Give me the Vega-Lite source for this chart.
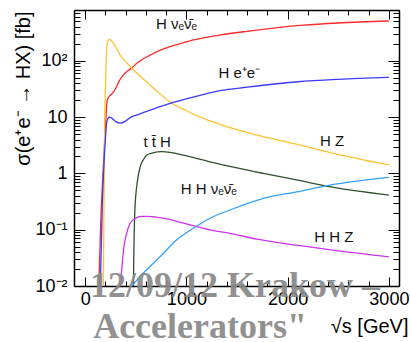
{
  "$schema": "https://vega.github.io/schema/vega-lite/v6.json",
  "width": 325,
  "height": 276,
  "autosize": {"type": "none"},
  "padding": {"left": 74, "top": 10, "right": 11, "bottom": 56},
  "background": "white",
  "config": {
    "view": {"stroke": null},
    "axis": {
      "grid": false,
      "labelFont": "Liberation Sans",
      "titleFont": "Liberation Sans",
      "labelColor": "black",
      "titleColor": "black",
      "titleFontWeight": "normal",
      "domainColor": "black",
      "domainWidth": 1.5,
      "tickColor": "black",
      "tickWidth": 1,
      "labelFlush": false,
      "labelOverlap": false,
      "labelBound": false
    }
  },
  "datasets": {
    "curves": [
      {"p": "Hnn", "s": 135, "v": 0.01}, {"p": "Hnn", "s": 155, "v": 0.15}, {"p": "Hnn", "s": 175, "v": 0.9},
      {"p": "Hnn", "s": 190, "v": 3}, {"p": "Hnn", "s": 204, "v": 9}, {"p": "Hnn", "s": 218, "v": 20},
      {"p": "Hnn", "s": 235, "v": 23}, {"p": "Hnn", "s": 265, "v": 26}, {"p": "Hnn", "s": 296, "v": 31},
      {"p": "Hnn", "s": 340, "v": 45}, {"p": "Hnn", "s": 380, "v": 57}, {"p": "Hnn", "s": 420, "v": 66},
      {"p": "Hnn", "s": 461, "v": 75}, {"p": "Hnn", "s": 520, "v": 93}, {"p": "Hnn", "s": 580, "v": 110},
      {"p": "Hnn", "s": 641, "v": 126}, {"p": "Hnn", "s": 700, "v": 143}, {"p": "Hnn", "s": 839, "v": 178},
      {"p": "Hnn", "s": 1000, "v": 218}, {"p": "Hnn", "s": 1332, "v": 287}, {"p": "Hnn", "s": 1600, "v": 335},
      {"p": "Hnn", "s": 2154, "v": 430}, {"p": "Hnn", "s": 2500, "v": 470}, {"p": "Hnn", "s": 3000, "v": 510},

      {"p": "HZ", "s": 180, "v": 0.01}, {"p": "HZ", "s": 190, "v": 3}, {"p": "HZ", "s": 200, "v": 30},
      {"p": "HZ", "s": 210, "v": 120}, {"p": "HZ", "s": 222, "v": 220}, {"p": "HZ", "s": 240, "v": 241},
      {"p": "HZ", "s": 260, "v": 228}, {"p": "HZ", "s": 300, "v": 180}, {"p": "HZ", "s": 345, "v": 127},
      {"p": "HZ", "s": 400, "v": 97}, {"p": "HZ", "s": 461, "v": 74}, {"p": "HZ", "s": 550, "v": 52},
      {"p": "HZ", "s": 674, "v": 33}, {"p": "HZ", "s": 839, "v": 18.5}, {"p": "HZ", "s": 1000, "v": 13},
      {"p": "HZ", "s": 1168, "v": 9.5}, {"p": "HZ", "s": 1400, "v": 6.8}, {"p": "HZ", "s": 1760, "v": 4.5},
      {"p": "HZ", "s": 2000, "v": 3.6}, {"p": "HZ", "s": 2418, "v": 2.35}, {"p": "HZ", "s": 3000, "v": 1.42},

      {"p": "Hee", "s": 150, "v": 0.01}, {"p": "Hee", "s": 170, "v": 0.3}, {"p": "Hee", "s": 190, "v": 2},
      {"p": "Hee", "s": 200, "v": 4}, {"p": "Hee", "s": 215, "v": 8.5}, {"p": "Hee", "s": 240, "v": 10},
      {"p": "Hee", "s": 265, "v": 9.5}, {"p": "Hee", "s": 300, "v": 8.4}, {"p": "Hee", "s": 345, "v": 7.8},
      {"p": "Hee", "s": 400, "v": 8.5}, {"p": "Hee", "s": 444, "v": 9.8}, {"p": "Hee", "s": 510, "v": 10.9},
      {"p": "Hee", "s": 600, "v": 12.5}, {"p": "Hee", "s": 700, "v": 14.5}, {"p": "Hee", "s": 839, "v": 17.6},
      {"p": "Hee", "s": 1000, "v": 21}, {"p": "Hee", "s": 1332, "v": 29.5}, {"p": "Hee", "s": 1600, "v": 34},
      {"p": "Hee", "s": 2100, "v": 42.5}, {"p": "Hee", "s": 2500, "v": 47}, {"p": "Hee", "s": 3000, "v": 51},

      {"p": "ttH", "s": 477, "v": 0.01}, {"p": "ttH", "s": 482, "v": 0.05}, {"p": "ttH", "s": 490, "v": 0.2},
      {"p": "ttH", "s": 500, "v": 0.4}, {"p": "ttH", "s": 515, "v": 0.7}, {"p": "ttH", "s": 543, "v": 1.3},
      {"p": "ttH", "s": 575, "v": 1.75}, {"p": "ttH", "s": 609, "v": 2.12}, {"p": "ttH", "s": 674, "v": 2.33},
      {"p": "ttH", "s": 757, "v": 2.43}, {"p": "ttH", "s": 850, "v": 2.35}, {"p": "ttH", "s": 1000, "v": 2.05},
      {"p": "ttH", "s": 1234, "v": 1.61}, {"p": "ttH", "s": 1500, "v": 1.25}, {"p": "ttH", "s": 1760, "v": 1.0},
      {"p": "ttH", "s": 2100, "v": 0.76}, {"p": "ttH", "s": 2418, "v": 0.58}, {"p": "ttH", "s": 3000, "v": 0.41},

      {"p": "HHZ", "s": 345, "v": 0.01}, {"p": "HHZ", "s": 362, "v": 0.02}, {"p": "HHZ", "s": 380, "v": 0.045},
      {"p": "HHZ", "s": 395, "v": 0.066}, {"p": "HHZ", "s": 420, "v": 0.1}, {"p": "HHZ", "s": 444, "v": 0.13},
      {"p": "HHZ", "s": 500, "v": 0.16}, {"p": "HHZ", "s": 550, "v": 0.172}, {"p": "HHZ", "s": 620, "v": 0.173},
      {"p": "HHZ", "s": 700, "v": 0.168}, {"p": "HHZ", "s": 773, "v": 0.16}, {"p": "HHZ", "s": 1000, "v": 0.127},
      {"p": "HHZ", "s": 1234, "v": 0.099}, {"p": "HHZ", "s": 1431, "v": 0.086}, {"p": "HHZ", "s": 1700, "v": 0.068},
      {"p": "HHZ", "s": 2089, "v": 0.053}, {"p": "HHZ", "s": 2500, "v": 0.042}, {"p": "HHZ", "s": 3000, "v": 0.033},

      {"p": "HHnn", "s": 461, "v": 0.01}, {"p": "HHnn", "s": 575, "v": 0.017}, {"p": "HHnn", "s": 740, "v": 0.033},
      {"p": "HHnn", "s": 905, "v": 0.066}, {"p": "HHnn", "s": 1069, "v": 0.106}, {"p": "HHnn", "s": 1234, "v": 0.16},
      {"p": "HHnn", "s": 1431, "v": 0.224}, {"p": "HHnn", "s": 1760, "v": 0.36}, {"p": "HHnn", "s": 2089, "v": 0.47},
      {"p": "HHnn", "s": 2418, "v": 0.62}, {"p": "HHnn", "s": 3000, "v": 0.85}
    ],
    "labels": [
      {"t": "H νₑν̄ₑ", "s": 700, "v": 367},
      {"t": "H e⁺e⁻", "s": 1316, "v": 48.9},
      {"t": "t t̄ H", "s": 576, "v": 2.98},
      {"t": "H Z", "s": 2319, "v": 3.07},
      {"t": "H H νₑν̄ₑ", "s": 944, "v": 0.43},
      {"t": "H H Z", "s": 2263, "v": 0.0597}
    ],
    "watermark": [
      {"t": "12/09/12 Krakow –", "s": 49, "v": 0.00625},
      {"t": "Accelerators\"", "s": 79, "v": 0.00119}
    ]
  },
  "layer": [
    {
      "data": {"name": "curves"},
      "mark": {"type": "line", "interpolate": "monotone", "strokeWidth": 1.3},
      "encoding": {
        "x": {
          "field": "s", "type": "quantitative",
          "scale": {"domain": [-110, 3100], "nice": false, "zero": false},
          "axis": {
            "orient": "bottom",
            "values": [0, 200, 400, 600, 800, 1000, 1200, 1400, 1600, 1800, 2000, 2200, 2400, 2600, 2800, 3000],
            "tickSize": {"condition": {"test": "datum.value % 1000 == 0", "value": -9}, "value": -5},
            "labelExpr": "datum.value % 1000 == 0 ? format(datum.value, 'd') : ''",
            "labelFontSize": 18,
            "labelPadding": 13,
            "title": "√s [GeV]",
            "titleFontSize": 20,
            "titleAlign": "right",
            "titleBaseline": "alphabetic",
            "titleX": 334,
            "titleY": 46
          }
        },
        "y": {
          "field": "v", "type": "quantitative",
          "scale": {"type": "log", "domain": [0.01, 800], "nice": false},
          "axis": {
            "orient": "left",
            "values": [0.01, 0.02, 0.03, 0.04, 0.05, 0.06, 0.07, 0.08, 0.09, 0.1, 0.2, 0.3, 0.4, 0.5, 0.6, 0.7, 0.8, 0.9, 1, 2, 3, 4, 5, 6, 7, 8, 9, 10, 20, 30, 40, 50, 60, 70, 80, 90, 100, 200, 300, 400, 500, 600, 700, 800],
            "tickSize": {"condition": {"test": "indexof([0.01, 0.1, 1, 10, 100], datum.value) >= 0", "value": -11}, "value": -6},
            "labelExpr": "datum.value == 100 ? '10²' : datum.value == 10 ? '10' : datum.value == 1 ? '1' : datum.value == 0.1 ? '10⁻¹' : datum.value == 0.01 ? '10⁻²' : ''",
            "labelFontSize": 18,
            "labelPadding": 18,
            "labelBaseline": "middle",
            "title": "σ(e⁺e⁻ → HX) [fb]",
            "titleFontSize": 20,
            "titleAngle": -90,
            "titleAlign": "right",
            "titleBaseline": "alphabetic",
            "titleX": -45,
            "titleY": 1
          }
        },
        "color": {
          "field": "p", "type": "nominal",
          "scale": {"domain": ["Hnn", "HZ", "Hee", "ttH", "HHZ", "HHnn"], "range": ["#ff2a2a", "#ffc12e", "#3a3aff", "#2e4f2e", "#cc33ee", "#33a0ff"]},
          "legend": null
        }
      }
    },
    {
      "data": {"name": "labels"},
      "mark": {"type": "text", "align": "left", "baseline": "alphabetic", "font": "Liberation Sans", "fontSize": 15, "color": "#111"},
      "encoding": {
        "x": {
          "field": "s", "type": "quantitative",
          "scale": {"domain": [-110, 3100], "nice": false, "zero": false},
          "axis": {
            "orient": "top",
            "values": [0, 200, 400, 600, 800, 1000, 1200, 1400, 1600, 1800, 2000, 2200, 2400, 2600, 2800, 3000],
            "tickSize": {"condition": {"test": "datum.value % 1000 == 0", "value": -9}, "value": -5},
            "labels": false,
            "title": null
          }
        },
        "y": {
          "field": "v", "type": "quantitative",
          "scale": {"type": "log", "domain": [0.01, 800], "nice": false},
          "axis": {
            "orient": "right",
            "values": [0.01, 0.02, 0.03, 0.04, 0.05, 0.06, 0.07, 0.08, 0.09, 0.1, 0.2, 0.3, 0.4, 0.5, 0.6, 0.7, 0.8, 0.9, 1, 2, 3, 4, 5, 6, 7, 8, 9, 10, 20, 30, 40, 50, 60, 70, 80, 90, 100, 200, 300, 400, 500, 600, 700, 800],
            "tickSize": {"condition": {"test": "indexof([0.01, 0.1, 1, 10, 100], datum.value) >= 0", "value": -11}, "value": -6},
            "labels": false,
            "title": null
          }
        },
        "text": {"field": "t", "type": "nominal"}
      }
    },
    {
      "data": {"name": "watermark"},
      "mark": {"type": "text", "align": "left", "baseline": "alphabetic", "font": "Liberation Serif", "fontWeight": "bold", "fontSize": 36, "color": "#888888", "opacity": 0.92},
      "encoding": {
        "x": {"field": "s", "type": "quantitative", "scale": {"domain": [-110, 3100], "nice": false, "zero": false}, "axis": null},
        "y": {"field": "v", "type": "quantitative", "scale": {"type": "log", "domain": [0.01, 800], "nice": false}, "axis": null},
        "text": {"field": "t", "type": "nominal"}
      }
    }
  ],
  "resolve": {"axis": {"x": "independent", "y": "independent"}}
}
